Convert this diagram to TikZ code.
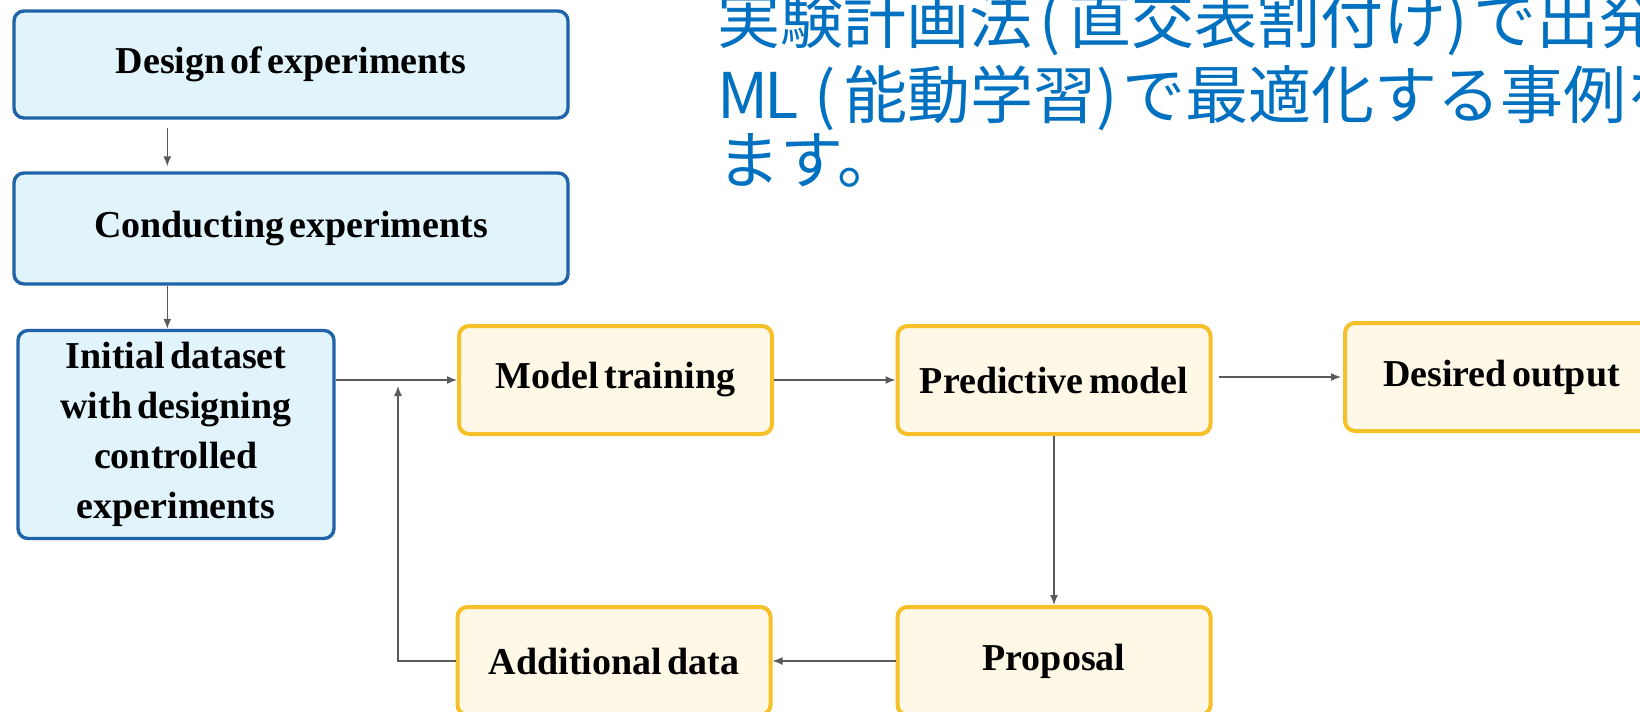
\documentclass[tikz,border=0pt]{standalone}
\usepackage{fontspec}
\setmainfont{Liberation Serif}
\newfontfamily\jpfont{Noto Sans CJK JP}
\usetikzlibrary{arrows.meta,calc}
\definecolor{bluebd}{RGB}{31,99,168}
\definecolor{bluefill}{RGB}{225,243,251}
\definecolor{yelbd}{RGB}{245,192,40}
\definecolor{yelfill}{RGB}{255,248,230}
\definecolor{jpblue}{RGB}{0,112,192}
\definecolor{linegray}{RGB}{90,90,90}
\newcommand{\pslot}[3][c]{\makebox[#2][#1]{#3}}
\newcommand{\boxtextfont}{\bfseries\fontsize{19}{25}\selectfont\spaceskip=0.14em\relax}
\begin{document}
\begin{tikzpicture}[x=0.5pt,y=-0.5pt,
  box/.style={rounded corners=5pt, inner sep=0pt, align=center,
    font=\boxtextfont, text=black},
  bluebox/.style={box, draw=bluebd, fill=bluefill, line width=1.7pt},
  yelbox/.style={box, draw=yelbd, fill=yelfill, line width=2pt,
    minimum width=156.5pt, minimum height=54pt},
  arr/.style={draw=linegray, line width=0.7pt, -{Latex[length=5pt,width=4pt]}},
  jp/.style={anchor=base west, inner sep=0pt, text=jpblue,
    font=\jpfont\fontsize{31.5}{37}\selectfont}]
\useasboundingbox (0,0) rectangle (1640,712);
\clip (0,0) rectangle (1640,712);
\fill[white] (0,0) rectangle (1640,712);

% Japanese heading
\node[jp] (jp1) at (717,43) {実験計画法\pslot{0.57em}{(}直交表割付け\pslot[l]{0.43em}{)}で出発};
\node[jp] (jp2) at (717,118) {\pslot[l]{0.75em}{M}\pslot[l]{0.66em}{L}\pslot{0.6em}{(}能動学習\pslot[l]{0.42em}{)}で最適化する事例を};
\node[jp] (jp3) at (717,183) {ます。};

% blue boxes
\node[bluebox, minimum width=277pt, minimum height=53.5pt] (des) at (291,64.5) {Design of experiments};
\node[bluebox, minimum width=277pt, minimum height=55.5pt] (con) at (291,228.5) {Conducting experiments};
\node[bluebox, minimum width=158pt, minimum height=104pt] (init) at (176,434.5) {Initial dataset\\with designing\\controlled\\experiments};

% yellow boxes
\node[yelbox] (mt) at (615.5,380) {Model training};
\node[yelbox] (pm) at (1054,380) {Predictive model};
\node[yelbox] (dout) at (1501.5,377) {Desired output};
\node[yelbox] (add) at (614,661) {Additional data};
\node[yelbox] (prop) at (1054,661) {Proposal};

% connectors
\draw[arr, shorten <=4pt, shorten >=2.5pt] ($(des.south west)+(155,0)$) -- ($(con.north west)+(155,0)$);
\draw[arr] ($(con.south west)+(155,0)$) -- ($(init.north west)+(151,0)$);
\draw[arr] (init.east |- mt.west) -- (mt.west);
\draw[arr] (mt.east) -- (pm.west);
\draw[arr, shorten <=3pt, shorten >=1pt] (pm.east |- dout.west) -- (dout.west);
\draw[arr] (pm.south) -- (prop.north);
\draw[arr] (prop.west) -- (add.east);
\coordinate (j) at (398,380);
\draw[arr, shorten >=3pt] (add.west) -| (j);
\end{tikzpicture}
\end{document}
